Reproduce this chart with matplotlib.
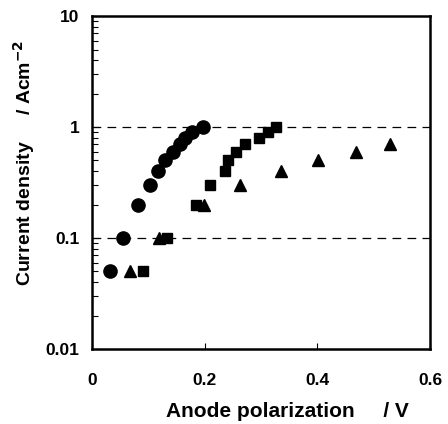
import matplotlib
matplotlib.use("Agg")
import matplotlib.pyplot as plt
from matplotlib.ticker import LogLocator, NullFormatter, FixedLocator

plt.rcParams['font.family'] = ['Liberation Sans', 'DejaVu Sans']

# circles
circ_x = [0.032, 0.055, 0.082, 0.103, 0.117, 0.130, 0.144, 0.156, 0.165, 0.178, 0.197]
circ_y = [0.05, 0.1, 0.2, 0.3, 0.4, 0.5, 0.6, 0.7, 0.8, 0.9, 1.0]
# squares
sq_x = [0.091, 0.133, 0.185, 0.210, 0.236, 0.241, 0.256, 0.272, 0.297, 0.313, 0.327]
sq_y = [0.05, 0.1, 0.2, 0.3, 0.4, 0.5, 0.6, 0.7, 0.8, 0.9, 1.0]
# triangles
tri_x = [0.067, 0.119, 0.199, 0.263, 0.335, 0.401, 0.469, 0.529]
tri_y = [0.05, 0.1, 0.2, 0.3, 0.4, 0.5, 0.6, 0.7]

xticks = [0, 0.2, 0.4, 0.6]
xticklabels = ["0", "0.2", "0.4", "0.6"]
yticks = [0.01, 0.1, 1, 10]
yticklabels = ["0.01", "0.1", "1", "10"]

fig = plt.figure(figsize=(4.48, 4.24), dpi=100)
ax = fig.add_axes([0.205, 0.177, 0.755, 0.785])

ax.set_yscale("log")
ax.set_xlim(0, 0.6)
ax.set_ylim(0.01, 10)

for yv in [0.1, 1]:
    ax.axhline(yv, color="black", lw=0.9, ls=(0, (7, 5)), zorder=1)

ax.plot(circ_x, circ_y, "o", color="black", ms=9.5, ls="none", zorder=3)
ax.plot(sq_x, sq_y, "s", color="black", ms=7.5, ls="none", zorder=3)
ax.plot(tri_x, tri_y, "^", color="black", ms=8.5, ls="none", zorder=3)

for s in ax.spines.values():
    s.set_linewidth(1.8)

ax.xaxis.set_major_locator(FixedLocator(xticks))
ax.set_xticklabels(xticklabels, fontsize=12.5, fontweight="bold")
ax.yaxis.set_major_locator(FixedLocator(yticks))
ax.set_yticklabels(yticklabels, fontsize=12.5, fontweight="bold")
ax.yaxis.set_minor_locator(LogLocator(base=10, subs=range(2, 10)))
ax.yaxis.set_minor_formatter(NullFormatter())

ax.tick_params(axis="x", which="major", direction="in", length=4, width=0.8,
               pad=17, top=False)
ax.tick_params(axis="y", which="major", direction="in", length=5, width=0.8,
               pad=9, right=False)
ax.tick_params(axis="y", which="minor", direction="in", length=4, width=0.8,
               right=False)

ax.set_xlabel("Anode polarization     / V", fontsize=15, fontweight="bold")
ax.xaxis.set_label_coords(0.578, -0.16)
ax.set_ylabel("Current density     / Acm$^{\\mathbf{-2}}$", fontsize=14,
              fontweight="bold")
ax.yaxis.set_label_coords(-0.163, 0.56)

fig.savefig("out.png", dpi=100)
